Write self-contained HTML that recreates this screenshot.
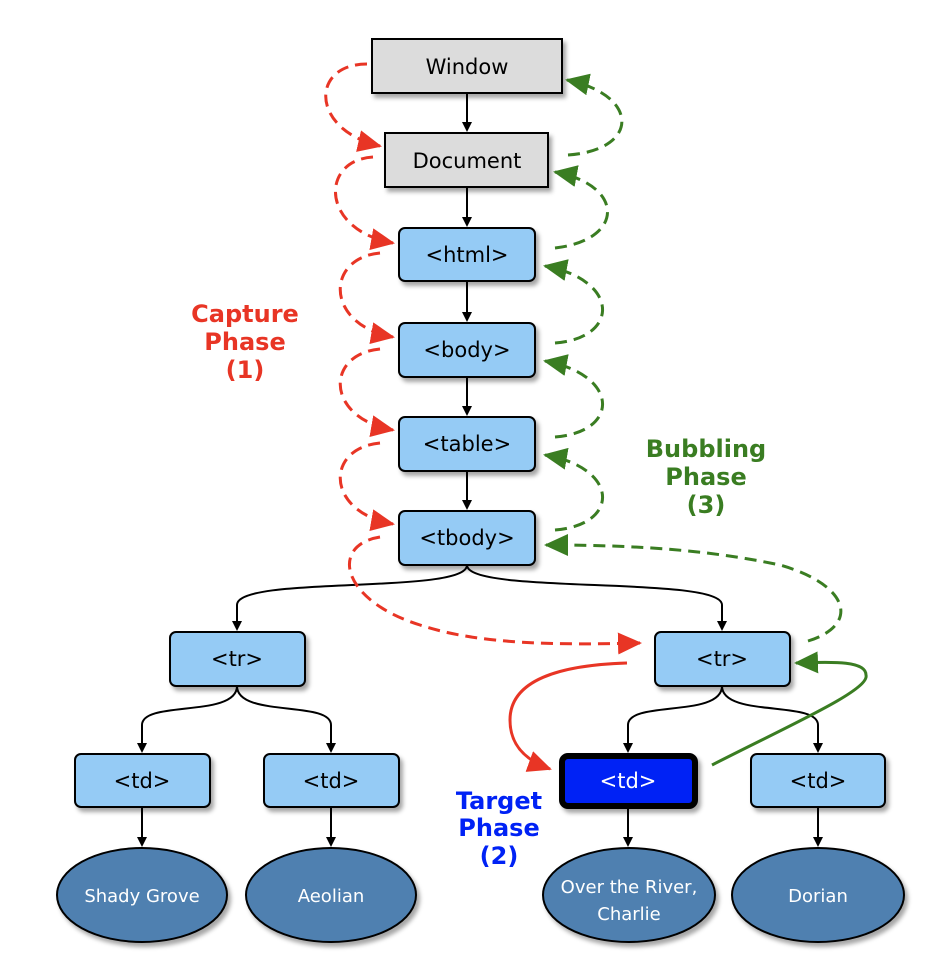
<!DOCTYPE html>
<html><head><style>
body{margin:0;background:#fff;}
svg text{font-family:"DejaVu Sans","Liberation Sans",sans-serif;}
</style></head><body>
<svg width="946" height="972" viewBox="0 0 946 972" xmlns="http://www.w3.org/2000/svg">
<defs>
<marker id="ab" markerWidth="10" markerHeight="10" refX="8" refY="5" orient="auto" markerUnits="userSpaceOnUse"><path d="M0,0 L10,5 L0,10 z" fill="#000"/></marker>
<marker id="ar" markerWidth="24" markerHeight="22" refX="22" refY="11" orient="auto" markerUnits="userSpaceOnUse"><path d="M0,0 L24,11 L0,22 z" fill="#e83525"/></marker>
<marker id="ag" markerWidth="24" markerHeight="22" refX="22" refY="11" orient="auto" markerUnits="userSpaceOnUse"><path d="M0,0 L24,11 L0,22 z" fill="#3a7d22"/></marker>
<filter id="sh" x="-10%" y="-10%" width="130%" height="140%"><feDropShadow dx="3" dy="4" stdDeviation="2" flood-color="#000" flood-opacity="0.35"/></filter>
</defs>
<g stroke="#000" stroke-width="2" fill="none">
<path d="M467,93 V130" marker-end="url(#ab)"/>
<path d="M467,187 V225" marker-end="url(#ab)"/>
<path d="M467,281 V320" marker-end="url(#ab)"/>
<path d="M467,377 V414" marker-end="url(#ab)"/>
<path d="M467,471 V508" marker-end="url(#ab)"/>
<path d="M467,565 C467,595 237,575 237,605 V629" marker-end="url(#ab)"/>
<path d="M467,565 C467,595 722,575 722,605 V629" marker-end="url(#ab)"/>
<path d="M237,686 C237,718 142,700 142,725 V751" marker-end="url(#ab)"/>
<path d="M237,686 C237,718 331,700 331,725 V751" marker-end="url(#ab)"/>
<path d="M722,686 C722,718 628,700 628,725 V751" marker-end="url(#ab)"/>
<path d="M722,686 C722,718 818,700 818,725 V751" marker-end="url(#ab)"/>
<path d="M142,807 V845" marker-end="url(#ab)"/>
<path d="M331,807 V845" marker-end="url(#ab)"/>
<path d="M628,808 V845" marker-end="url(#ab)"/>
<path d="M818,807 V845" marker-end="url(#ab)"/>
</g>
<g filter="url(#sh)" stroke="#000" stroke-width="2">
<rect x="372" y="39" width="190" height="54" fill="#dcdcdc"/>
<rect x="385" y="133" width="163" height="54" fill="#dcdcdc"/>
<rect x="399" y="228" width="136" height="53" rx="6" fill="#95cbf5"/>
<rect x="399" y="323" width="136" height="54" rx="6" fill="#95cbf5"/>
<rect x="399" y="417" width="136" height="54" rx="6" fill="#95cbf5"/>
<rect x="399" y="511" width="136" height="54" rx="6" fill="#95cbf5"/>
<rect x="170" y="632" width="135" height="54" rx="6" fill="#95cbf5"/>
<rect x="655" y="632" width="135" height="54" rx="6" fill="#95cbf5"/>
<rect x="75" y="754" width="135" height="53" rx="6" fill="#95cbf5"/>
<rect x="264" y="754" width="135" height="53" rx="6" fill="#95cbf5"/>
<rect x="562" y="756" width="133" height="50" rx="6" fill="#0022f5" stroke-width="6"/>
<rect x="751" y="754" width="134" height="53" rx="6" fill="#95cbf5"/>
<ellipse cx="142" cy="895" rx="85" ry="47" fill="#5080b0"/>
<ellipse cx="331" cy="895" rx="85" ry="47" fill="#5080b0"/>
<ellipse cx="629" cy="895" rx="86" ry="47" fill="#5080b0"/>
<ellipse cx="818" cy="895" rx="86" ry="47" fill="#5080b0"/>
</g>
<g font-size="21" text-anchor="middle" fill="#000">
<text x="467" y="74">Window</text>
<text x="467" y="168">Document</text>
<text x="467" y="262">&lt;html&gt;</text>
<text x="467" y="357">&lt;body&gt;</text>
<text x="467" y="451">&lt;table&gt;</text>
<text x="467" y="545">&lt;tbody&gt;</text>
<text x="237" y="666">&lt;tr&gt;</text>
<text x="722" y="666">&lt;tr&gt;</text>
<text x="142" y="788">&lt;td&gt;</text>
<text x="331" y="788">&lt;td&gt;</text>
<text x="628" y="788" fill="#fff">&lt;td&gt;</text>
<text x="818" y="788">&lt;td&gt;</text>
</g>
<g font-size="18" text-anchor="middle" fill="#fff">
<text x="142" y="902">Shady Grove</text>
<text x="331" y="902">Aeolian</text>
<text x="629" y="893">Over the River,</text>
<text x="629" y="920">Charlie</text>
<text x="818" y="902">Dorian</text>
</g>
<g font-size="24" font-weight="bold" text-anchor="middle">
<text x="245" y="322" fill="#e83525">Capture</text>
<text x="245" y="350" fill="#e83525">Phase</text>
<text x="245" y="378" fill="#e83525">(1)</text>
<text x="706" y="457" fill="#3a7d22">Bubbling</text>
<text x="706" y="485" fill="#3a7d22">Phase</text>
<text x="706" y="513" fill="#3a7d22">(3)</text>
<text x="499" y="809" fill="#0022f5">Target</text>
<text x="499" y="836" fill="#0022f5">Phase</text>
<text x="499" y="864" fill="#0022f5">(2)</text>
</g>
<g fill="none" stroke="#e83525" stroke-width="3" stroke-dasharray="12,7">
<path d="M367,64 C310,64 310,130 380,146" marker-end="url(#ar)"/>
<path d="M373,157 C320,160 320,230 393,243" marker-end="url(#ar)"/>
<path d="M380,253 C325,258 325,325 393,337" marker-end="url(#ar)"/>
<path d="M380,349 C325,354 325,418 393,430" marker-end="url(#ar)"/>
<path d="M380,443 C325,448 325,512 393,524" marker-end="url(#ar)"/>
<path d="M380,537 C330,545 340,600 420,625 C480,645 560,645 640,643" marker-end="url(#ar)"/>
</g>
<g fill="none" stroke="#3a7d22" stroke-width="3" stroke-dasharray="12,7">
<path d="M568,155 C640,150 640,95 567,80" marker-end="url(#ag)"/>
<path d="M555,248 C625,240 625,185 555,172" marker-end="url(#ag)"/>
<path d="M555,343 C620,338 620,280 545,266" marker-end="url(#ag)"/>
<path d="M555,437 C620,432 620,375 545,361" marker-end="url(#ag)"/>
<path d="M555,530 C620,525 620,468 545,455" marker-end="url(#ag)"/>
<path d="M808,641 C860,625 850,585 780,565 C700,548 620,545 546,545" marker-end="url(#ag)"/>
</g>
<path d="M627,663 C560,665 510,680 510,720 C510,745 525,760 550,769" fill="none" stroke="#e83525" stroke-width="3" marker-end="url(#ar)"/>
<path d="M712,765 C790,725 870,690 866,675 C866,660 830,662 796,663" fill="none" stroke="#3a7d22" stroke-width="3" marker-end="url(#ag)"/>
</svg>
</body></html>
